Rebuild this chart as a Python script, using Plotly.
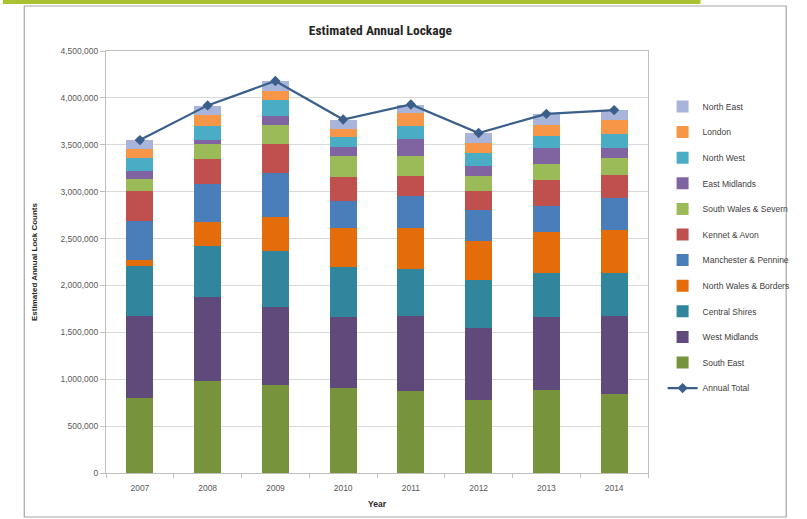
import plotly.graph_objects as go

years = ["2007", "2008", "2009", "2010", "2011", "2012", "2013", "2014"]

south_east = [800000, 978000, 942000, 907000, 871000, 782000, 889000, 843000]
west_midlands = [871000, 896000, 828000, 757000, 800000, 764000, 775000, 835000]
central_shires = [533000, 544000, 594000, 533000, 505000, 508000, 469000, 455000]
north_wales_borders = [71000, 260000, 366000, 416000, 437000, 416000, 434000, 455000]
manchester_pennine = [409000, 405000, 469000, 292000, 338000, 331000, 277000, 345000]
kennet_avon = [320000, 267000, 309000, 252000, 220000, 210000, 284000, 249000]
south_wales_severn = [132000, 160000, 206000, 220000, 213000, 160000, 167000, 178000]
east_midlands = [82000, 46000, 96000, 100000, 178000, 107000, 171000, 107000]
north_west = [142000, 149000, 171000, 107000, 142000, 135000, 132000, 153000]
london = [96000, 117000, 89000, 89000, 135000, 107000, 117000, 142000]
north_east = [100000, 89000, 107000, 96000, 89000, 107000, 117000, 114000]
annual_total = [3550000, 3920000, 4180000, 3770000, 3930000, 3625000, 3830000, 3870000]

series = [
    ("South East", south_east, "#77933C"),
    ("West Midlands", west_midlands, "#604A7B"),
    ("Central Shires", central_shires, "#31859C"),
    ("North Wales & Borders", north_wales_borders, "#E46C0A"),
    ("Manchester & Pennine", manchester_pennine, "#4A7EBB"),
    ("Kennet & Avon", kennet_avon, "#C0504D"),
    ("South Wales & Severn", south_wales_severn, "#9BBB59"),
    ("East Midlands", east_midlands, "#8064A2"),
    ("North West", north_west, "#4BACC6"),
    ("London", london, "#F79646"),
    ("North East", north_east, "#A9B4DA"),
]

fig = go.Figure()
fig.add_trace(go.Scatter(
    x=years, y=annual_total, name="Annual Total", mode="lines+markers",
    line=dict(color="#3A5F8B", width=2.2),
    marker=dict(symbol="diamond", size=8, color="#3A5F8B"),
    legendgroup="total", legendrank=2000,
))
n = len(series)
for i, (name, vals, col) in enumerate(series):
    fig.add_trace(go.Bar(
        x=years, y=vals, name=name, marker=dict(color=col, line=dict(width=0)),
        width=0.4, legendgroup=name, legendrank=1000 + (n - i),
    ))

W, H = 807, 519
L, R, T, B = 106, 663, 51, 473
pw, ph = R - L, B - T

def px(x):
    return (x - L) / pw

def py(y):
    return (B - y) / ph

fig.update_layout(
    width=W, height=H,
    margin=dict(l=L, r=W - R, t=T, b=H - B),
    barmode="stack",
    paper_bgcolor="white", plot_bgcolor="white",
    font=dict(family="Liberation Sans, Arial, sans-serif", color="#595959", size=9),
    title=dict(text="<b>Estimated Annual Lockage</b>", x=px(388), xref="paper", xanchor="center",
               y=1 - 30 / H, yanchor="middle",
               font=dict(family="Liberation Sans Narrow, Roboto Condensed, Liberation Sans, sans-serif",
                         size=13.5, color="#262626")),
    showlegend=True,
    legend=dict(traceorder="grouped", x=px(678), y=py(92), xanchor="left", yanchor="top",
                font=dict(size=8.5, color="#404040"), tracegroupgap=6.6,
                bgcolor="rgba(0,0,0,0)", itemwidth=30),
    xaxis=dict(showline=True, linecolor="#BFBFBF", mirror=True, ticks="outside",
               tickson="boundaries", ticklen=4, tickcolor="#BFBFBF",
               ticklabelstandoff=7,
               title=dict(text="<b>Year</b>", font=dict(size=8.5, color="#262626"), standoff=8),
               tickfont=dict(size=8.5, color="#595959")),
    yaxis=dict(range=[0, 4500000], dtick=500000, tickformat=",d",
               showline=True, linecolor="#BFBFBF", mirror=True,
               showgrid=True, gridcolor="#D9D9D9", gridwidth=1,
               ticks="outside", ticklen=5, tickcolor="#BFBFBF", zeroline=False,
               title=dict(text="<b>Estimated Annual Lock Counts</b>",
                          font=dict(size=8, color="#262626"), standoff=21),
               tickfont=dict(size=8.5, color="#595959")),
    shapes=[
        dict(type="rect", xref="paper", yref="paper",
             x0=px(22), x1=px(805), y0=py(517), y1=py(6),
             line=dict(color="#A6A6A6", width=1.2), fillcolor="rgba(0,0,0,0)", layer="below"),
        dict(type="rect", xref="paper", yref="paper",
             x0=px(0), x1=px(717), y0=py(4), y1=py(0),
             line=dict(width=0), fillcolor="#A8C232", layer="above"),
    ],
)

fig.write_html("out.html")
